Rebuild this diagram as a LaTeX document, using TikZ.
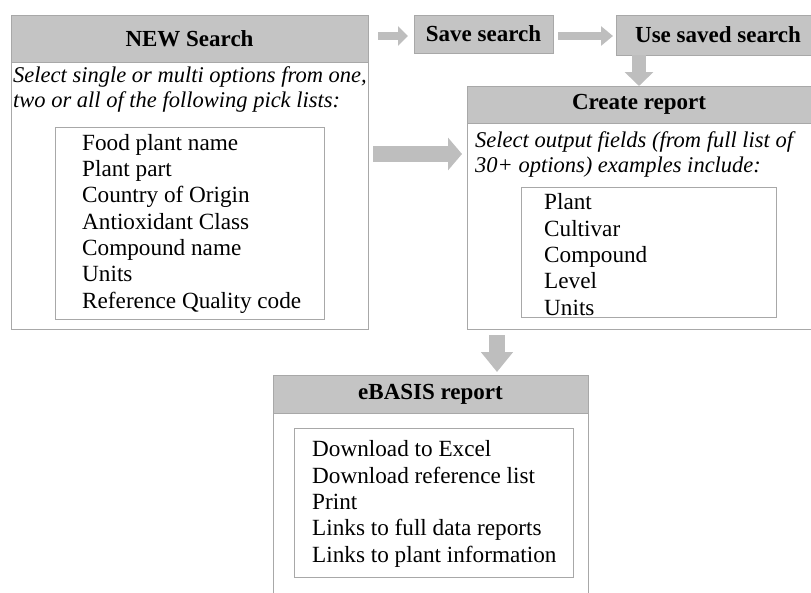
\documentclass[tikz,border=0pt]{standalone}
\usepackage{fontspec}
\setmainfont{Liberation Serif}
\usetikzlibrary{arrows.meta}
\definecolor{hdrgray}{RGB}{196,196,196}
\definecolor{arrgray}{RGB}{190,190,190}
\definecolor{bordergray}{RGB}{168,168,168}
\begin{document}
\begin{tikzpicture}[x=1pt,y=-1pt,
  box/.style={draw=bordergray, line width=0.9pt, fill=white, inner sep=0pt, outer sep=0pt, anchor=north west},
  hdr/.style={box, fill=hdrgray, font=\fontsize{23}{26}\selectfont\bfseries},
  ital/.style={inner sep=0pt, anchor=base west, align=left, font=\fontsize{22.5}{24.5}\selectfont\itshape},
  items/.style={inner sep=0pt, anchor=base west, align=left, font=\fontsize{23.2}{26.3}\selectfont},
  fatarrow/.style n args={3}{draw=arrgray, line width=#1, -{Triangle[width=#2,length=#3]}}
]
\useasboundingbox (0,0) rectangle (811,592);

% NEW Search
\node[box, minimum width=357pt, minimum height=314pt] (nsBox) at (11,15) {};
\node[hdr, minimum width=357pt, minimum height=47pt] (nsHead) at (11,15) {NEW Search};
\node[ital] (nsText) at (13,107) {Select single or multi options from one,\\two or all of the following pick lists:};
\node[box, minimum width=269pt, minimum height=192pt] (nsList) at (55,127) {};
\node[items] (nsItems) at (82,308) {Food plant name\\Plant part\\Country of Origin\\Antioxidant Class\\Compound name\\Units\\Reference Quality code};

% Save / Use saved search
\node[hdr, minimum width=139pt, minimum height=38pt] (save) at (414,15) {Save search};
\node[hdr, minimum width=204pt, minimum height=40pt] (use) at (616,15) {Use saved search};

% Create report
\node[box, minimum width=353pt, minimum height=243pt] (crBox) at (467,86) {};
\node[hdr, minimum width=344pt, minimum height=37pt] (crHead) at (467,86) {Create report};
\node[ital] (crText) at (475,172) {Select output fields (from full list of\\30+ options) examples include:};
\node[box, minimum width=255pt, minimum height=130pt] (crList) at (521,187) {};
\node[items] (crItems) at (544,315) {Plant\\Cultivar\\Compound\\Level\\Units};

% eBASIS report
\node[box, minimum width=315pt, minimum height=230pt] (ebBox) at (273,375) {};
\node[hdr, minimum width=315pt, minimum height=38pt] (ebHead) at (273,375) {eBASIS report};
\node[box, minimum width=279pt, minimum height=149pt] (ebList) at (294,428) {};
\node[items] (ebItems) at (312,562) {Download to Excel\\Download reference list\\Print\\Links to full data reports\\Links to plant information};

% arrows
\draw[fatarrow={8pt}{19pt}{10pt}] ([xshift=10pt,yshift=-2pt]nsHead.east |- save.west) -- ([xshift=-6pt,yshift=-2pt]save.west);
\draw[fatarrow={8pt}{19pt}{12pt}] ([xshift=5pt,yshift=-2pt]save.east) -- ([xshift=-3pt,yshift=-2pt]save.east -| use.west);
\draw[fatarrow={14pt}{28pt}{14pt}] (use.south -| crHead.north) -- (crHead.north);
\coordinate (a4) at (373,154);
\draw[fatarrow={16pt}{32pt}{14pt}] (a4) -- ([xshift=-5pt]crBox.west |- a4);
\coordinate (a5) at (497,335);
\draw[fatarrow={16pt}{31pt}{20pt}] (a5) -- ([yshift=3pt]a5 |- ebHead.north);
\end{tikzpicture}
\end{document}
